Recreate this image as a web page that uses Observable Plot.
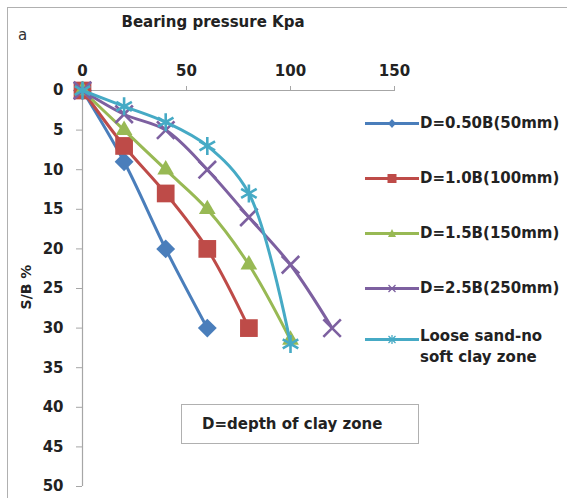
<!DOCTYPE html>
<html>
<head>
<meta charset="utf-8">
<script src="https://cdn.jsdelivr.net/npm/d3@7"></script>
<script src="https://cdn.jsdelivr.net/npm/@observablehq/plot@0.6"></script>
<style>
  html, body { margin: 0; padding: 0; background: #fff; }
  body { width: 567px; height: 498px; position: relative; overflow: hidden; font-family: "DejaVu Sans", sans-serif; color: #222; }
  .abs { position: absolute; white-space: nowrap; }
  #frame { position: absolute; left: 7px; top: 7px; width: 590px; height: 520px; border: 1.5px solid #b0b0b0; }
  #chart { position: absolute; left: 0; top: 0; }
  .lg { position: absolute; left: 365px; width: 210px; white-space: nowrap; font-weight: bold; font-size: 15px; line-height: 21px; }
  .lg svg { position: absolute; left: 0; }
  .lg span { position: absolute; left: 55px; white-space: nowrap; }
</style>
</head>
<body>
<div id="frame"></div>
<div id="chart"></div>
<script>
// ---- data ----
const seriesNames = ["D=0.50B(50mm)", "D=1.0B(100mm)", "D=1.5B(150mm)", "D=2.5B(250mm)", "Loose sand-no soft clay zone"];
const seriesColors = ["#4A7EBB", "#BE4B48", "#98B954", "#7D60A0", "#46AAC5"];
const seriesSymbols = ["diamond2", "square", "triangle", "times", "asterisk"];

const pressure050 = [0, 20, 40, 60];
const settle050   = [0, 9, 20, 30];
const pressure100 = [0, 20, 40, 60, 80];
const settle100   = [0, 7, 13, 20, 30];
const pressure150 = [0, 20, 40, 60, 80, 100];
const settle150   = [0, 5, 10, 15, 22, 31.5];
const pressure250 = [0, 20, 40, 60, 80, 100, 120];
const settle250   = [0, 3, 5, 10, 16, 22, 30];
const pressureLoose = [0, 20, 40, 60, 80, 100];
const settleLoose   = [0, 2, 4, 7, 13, 32];

const xTicks = [0, 50, 100, 150];
const yTicks = [0, 5, 10, 15, 20, 25, 30, 35, 40, 45, 50];

const seriesX = [pressure050, pressure100, pressure150, pressure250, pressureLoose];
const seriesY = [settle050, settle100, settle150, settle250, settleLoose];
const dotR = [8.5, 10, 6.2, 8, 8.5];

const marks = [
  Plot.ruleY([0], {stroke: "#a6a6a6", strokeWidth: 1.2}),
  Plot.ruleX([0], {stroke: "#a6a6a6", strokeWidth: 1.2}),
  Plot.axisX({anchor: "top", ticks: xTicks, tickSize: 5, tickPadding: 10, stroke: "#a6a6a6", label: null,
              fontSize: 15, fontWeight: "bold", fill: "#222", tickFormat: d => d}),
  Plot.axisY({anchor: "left", ticks: yTicks, tickSize: 6, tickPadding: 13, stroke: "#a6a6a6", label: null,
              fontSize: 15, fontWeight: "bold", fill: "#222", tickFormat: d => d})
];

seriesNames.forEach((name, i) => {
  const rows = seriesX[i].map((x, j) => ({x, y: seriesY[i][j]}));
  marks.push(Plot.line(rows, {x: "x", y: "y", stroke: seriesColors[i], strokeWidth: 3, curve: "catmull-rom"}));
  const sym = seriesSymbols[i];
  const hollow = sym === "times" || sym === "asterisk";
  marks.push(Plot.dot(rows, {
    x: "x", y: "y", r: dotR[i], symbol: () => sym,
    fill: hollow ? "none" : seriesColors[i],
    stroke: seriesColors[i], strokeWidth: hollow ? 2.6 : 0
  }));
});

const chart = Plot.plot({
  width: 567, height: 498,
  marginLeft: 82, marginRight: 173, marginTop: 90, marginBottom: 12,
  style: {background: "transparent", fontFamily: "DejaVu Sans", overflow: "visible"},
  symbol: {type: "identity"},
  x: {domain: [0, 150], axis: null, label: null},
  y: {domain: [0, 50], reverse: true, axis: null, label: null},
  marks
});
document.getElementById("chart").appendChild(chart);

// ---- text and legend ----
function addDiv(html, css) {
  const d = document.createElement("div");
  d.className = "abs";
  d.innerHTML = html;
  Object.assign(d.style, css);
  document.body.appendChild(d);
  return d;
}
addDiv("a", {left: "18px", top: "26px", fontSize: "15px", color: "#333"});
addDiv("Bearing pressure Kpa", {left: "213px", top: "13px", transform: "translateX(-50%)", fontSize: "15px", fontWeight: "bold"});
addDiv("S/B %", {left: "26px", top: "287px", transform: "translate(-50%,-50%) rotate(-90deg)", fontSize: "14px", fontWeight: "bold"});

const legendY = [123, 178, 233, 288, 339];
const legendMarker = {
  diamond2: c => `<path d="M27,6 L31,10.5 L27,15 L23,10.5 Z" fill="${c}"/>`,
  square:   c => `<rect x="22.5" y="6" width="9" height="9" fill="${c}"/>`,
  triangle: c => `<path d="M27,6 L31,14 L23,14 Z" fill="${c}"/>`,
  times:    c => `<path d="M23.5,7 L30.5,14 M30.5,7 L23.5,14" stroke="${c}" stroke-width="1.3" fill="none"/>`,
  asterisk: c => `<path d="M23.5,7 L30.5,14 M30.5,7 L23.5,14 M27,6 L27,15" stroke="${c}" stroke-width="1.3" fill="none"/>`
};
seriesNames.forEach((name, i) => {
  const d = document.createElement("div");
  d.className = "lg";
  d.style.top = (legendY[i] - 10.5) + "px";
  const label = name === "Loose sand-no soft clay zone" ? "Loose sand-no<br>soft clay zone" : name;
  d.innerHTML = `<svg width="54" height="21" style="top:0"><line x1="0" x2="54" y1="10.5" y2="10.5" stroke="${seriesColors[i]}" stroke-width="3"/>${legendMarker[seriesSymbols[i]](seriesColors[i])}</svg><span style="top:${i === 4 ? -3 : 0}px">${label}</span>`;
  document.body.appendChild(d);
});

addDiv("D=depth of clay zone", {left: "181px", top: "404px", width: "216px", height: "38px", border: "1.5px solid #b0b0b0",
  paddingLeft: "20px", fontSize: "15px", fontWeight: "bold", lineHeight: "38px", boxSizing: "content-box"});
</script>
</body>
</html>
